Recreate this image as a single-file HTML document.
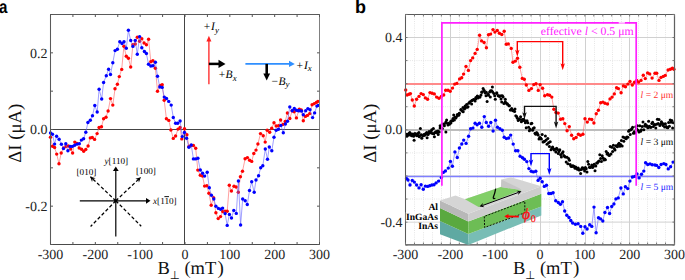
<!DOCTYPE html><html><head><meta charset="utf-8"><style>html,body{margin:0;padding:0;background:#fff;overflow:hidden}svg{display:block;text-rendering:geometricPrecision;-webkit-font-smoothing:antialiased}.s{font-family:"Liberation Serif",serif}.n{font-family:"Liberation Sans",sans-serif}</style></head><body>
<svg width="685" height="280" viewBox="0 0 685 280">
<rect width="685" height="280" fill="#fff"/>
<text class="n" transform="translate(-0.9,12.9) scale(0.84,1)" font-size="18" font-weight="bold" fill="#000">a</text>
<line x1="184.5" y1="14.5" x2="184.5" y2="244.5" stroke="#444" stroke-width="1"/>
<line x1="50.5" y1="129.5" x2="319.5" y2="129.5" stroke="#444" stroke-width="1"/>
<path d="M50.5,137.3 L52.5,146.2 L54.6,147.5 L56.7,154.1 L59,163.7 L61.2,153 L63.5,148 L65.9,146.5 L68.3,146 L70.7,149 L72.6,153 L74.8,142.1 L77,143.5 L79.2,148 L81.6,149.2 L83.7,151.3 L85.8,149.4 L88.1,146 L90.3,137.9 L92.3,137.5 L94.6,139.4 L97.1,133.6 L99.1,127.5 L101.5,126.7 L103.6,118.8 L106,117.3 L108.1,111 L110.5,98.6 L112.8,105.1 L115,88.8 L117.4,84.3 L119.3,76.6 L121.7,69.4 L123.9,46.2 L126.3,56.3 L128.4,58.3 L130.7,67 L132.9,44.8 L135.2,44 L137.3,37.3 L139.6,41.2 L141.8,38.7 L144.1,43 L146.4,44.7 L148.6,39.3 L150.8,61.7 L152.9,60.7 L155.4,68.3 L157.5,91.3 L160.2,85.4 L162.2,84.8 L164.2,100.2 L166.4,118.8 L168.8,120.4 L170.9,130 L173.3,138.4 L175.6,136 L178,129.1 L180.1,127.5 L181.8,138.9 L184.5,128.7 L186.9,134.8 L188.9,146.4 L191.1,145.5 L193.4,145.5 L195.7,148.2 L197.8,170.1 L200.3,175.3 L202.5,176.1 L204.6,186.1 L206.8,185.7 L208.9,193.2 L211.2,205.2 L213.5,197.6 L215.9,212.8 L218.2,218.6 L220.5,216.6 L222.7,211.5 L225,211.3 L227.2,211.3 L229.3,185.3 L231.4,191 L234,186.3 L236.1,187 L238.3,192.2 L240.4,176.8 L242.5,171.3 L245.1,158.8 L247.4,157.6 L249.6,160.3 L251.7,161.4 L253.8,153.5 L256,150.1 L257.9,144 L260.5,133.6 L263.2,135.8 L265.2,142.1 L267.2,130.3 L269.7,132.3 L271.7,128.3 L274,122.8 L276.2,126 L278.5,125.8 L280.6,120 L283,124.4 L285.2,121.5 L287.4,113 L289.8,118.5 L292.2,110.8 L294.2,111.7 L296.4,117.9 L299.3,109.3 L301.3,110 L303.3,120.7 L305.4,116.4 L307.4,115.4 L309.7,113.6 L312.1,104.7 L314.3,103.6 L316.4,102.4 L317.9,101.4" fill="none" stroke="#ff6060" stroke-width="0.6" opacity="1"/>
<g fill="#ff0000"><circle cx="50.5" cy="137.3" r="1.7"/><circle cx="52.5" cy="146.2" r="1.7"/><circle cx="54.6" cy="147.5" r="1.7"/><circle cx="56.7" cy="154.1" r="1.7"/><circle cx="59" cy="163.7" r="1.7"/><circle cx="61.2" cy="153" r="1.7"/><circle cx="63.5" cy="148" r="1.7"/><circle cx="65.9" cy="146.5" r="1.7"/><circle cx="68.3" cy="146" r="1.7"/><circle cx="70.7" cy="149" r="1.7"/><circle cx="72.6" cy="153" r="1.7"/><circle cx="74.8" cy="142.1" r="1.7"/><circle cx="77" cy="143.5" r="1.7"/><circle cx="79.2" cy="148" r="1.7"/><circle cx="81.6" cy="149.2" r="1.7"/><circle cx="83.7" cy="151.3" r="1.7"/><circle cx="85.8" cy="149.4" r="1.7"/><circle cx="88.1" cy="146" r="1.7"/><circle cx="90.3" cy="137.9" r="1.7"/><circle cx="92.3" cy="137.5" r="1.7"/><circle cx="94.6" cy="139.4" r="1.7"/><circle cx="97.1" cy="133.6" r="1.7"/><circle cx="99.1" cy="127.5" r="1.7"/><circle cx="101.5" cy="126.7" r="1.7"/><circle cx="103.6" cy="118.8" r="1.7"/><circle cx="106" cy="117.3" r="1.7"/><circle cx="108.1" cy="111" r="1.7"/><circle cx="110.5" cy="98.6" r="1.7"/><circle cx="112.8" cy="105.1" r="1.7"/><circle cx="115" cy="88.8" r="1.7"/><circle cx="117.4" cy="84.3" r="1.7"/><circle cx="119.3" cy="76.6" r="1.7"/><circle cx="121.7" cy="69.4" r="1.7"/><circle cx="123.9" cy="46.2" r="1.7"/><circle cx="126.3" cy="56.3" r="1.7"/><circle cx="128.4" cy="58.3" r="1.7"/><circle cx="130.7" cy="67" r="1.7"/><circle cx="132.9" cy="44.8" r="1.7"/><circle cx="135.2" cy="44" r="1.7"/><circle cx="137.3" cy="37.3" r="1.7"/><circle cx="139.6" cy="41.2" r="1.7"/><circle cx="141.8" cy="38.7" r="1.7"/><circle cx="144.1" cy="43" r="1.7"/><circle cx="146.4" cy="44.7" r="1.7"/><circle cx="148.6" cy="39.3" r="1.7"/><circle cx="150.8" cy="61.7" r="1.7"/><circle cx="152.9" cy="60.7" r="1.7"/><circle cx="155.4" cy="68.3" r="1.7"/><circle cx="157.5" cy="91.3" r="1.7"/><circle cx="160.2" cy="85.4" r="1.7"/><circle cx="162.2" cy="84.8" r="1.7"/><circle cx="164.2" cy="100.2" r="1.7"/><circle cx="166.4" cy="118.8" r="1.7"/><circle cx="168.8" cy="120.4" r="1.7"/><circle cx="170.9" cy="130" r="1.7"/><circle cx="173.3" cy="138.4" r="1.7"/><circle cx="175.6" cy="136" r="1.7"/><circle cx="178" cy="129.1" r="1.7"/><circle cx="180.1" cy="127.5" r="1.7"/><circle cx="181.8" cy="138.9" r="1.7"/><circle cx="184.5" cy="128.7" r="1.7"/><circle cx="186.9" cy="134.8" r="1.7"/><circle cx="188.9" cy="146.4" r="1.7"/><circle cx="191.1" cy="145.5" r="1.7"/><circle cx="193.4" cy="145.5" r="1.7"/><circle cx="195.7" cy="148.2" r="1.7"/><circle cx="197.8" cy="170.1" r="1.7"/><circle cx="200.3" cy="175.3" r="1.7"/><circle cx="202.5" cy="176.1" r="1.7"/><circle cx="204.6" cy="186.1" r="1.7"/><circle cx="206.8" cy="185.7" r="1.7"/><circle cx="208.9" cy="193.2" r="1.7"/><circle cx="211.2" cy="205.2" r="1.7"/><circle cx="213.5" cy="197.6" r="1.7"/><circle cx="215.9" cy="212.8" r="1.7"/><circle cx="218.2" cy="218.6" r="1.7"/><circle cx="220.5" cy="216.6" r="1.7"/><circle cx="222.7" cy="211.5" r="1.7"/><circle cx="225" cy="211.3" r="1.7"/><circle cx="227.2" cy="211.3" r="1.7"/><circle cx="229.3" cy="185.3" r="1.7"/><circle cx="231.4" cy="191" r="1.7"/><circle cx="234" cy="186.3" r="1.7"/><circle cx="236.1" cy="187" r="1.7"/><circle cx="238.3" cy="192.2" r="1.7"/><circle cx="240.4" cy="176.8" r="1.7"/><circle cx="242.5" cy="171.3" r="1.7"/><circle cx="245.1" cy="158.8" r="1.7"/><circle cx="247.4" cy="157.6" r="1.7"/><circle cx="249.6" cy="160.3" r="1.7"/><circle cx="251.7" cy="161.4" r="1.7"/><circle cx="253.8" cy="153.5" r="1.7"/><circle cx="256" cy="150.1" r="1.7"/><circle cx="257.9" cy="144" r="1.7"/><circle cx="260.5" cy="133.6" r="1.7"/><circle cx="263.2" cy="135.8" r="1.7"/><circle cx="265.2" cy="142.1" r="1.7"/><circle cx="267.2" cy="130.3" r="1.7"/><circle cx="269.7" cy="132.3" r="1.7"/><circle cx="271.7" cy="128.3" r="1.7"/><circle cx="274" cy="122.8" r="1.7"/><circle cx="276.2" cy="126" r="1.7"/><circle cx="278.5" cy="125.8" r="1.7"/><circle cx="280.6" cy="120" r="1.7"/><circle cx="283" cy="124.4" r="1.7"/><circle cx="285.2" cy="121.5" r="1.7"/><circle cx="287.4" cy="113" r="1.7"/><circle cx="289.8" cy="118.5" r="1.7"/><circle cx="292.2" cy="110.8" r="1.7"/><circle cx="294.2" cy="111.7" r="1.7"/><circle cx="296.4" cy="117.9" r="1.7"/><circle cx="299.3" cy="109.3" r="1.7"/><circle cx="301.3" cy="110" r="1.7"/><circle cx="303.3" cy="120.7" r="1.7"/><circle cx="305.4" cy="116.4" r="1.7"/><circle cx="307.4" cy="115.4" r="1.7"/><circle cx="309.7" cy="113.6" r="1.7"/><circle cx="312.1" cy="104.7" r="1.7"/><circle cx="314.3" cy="103.6" r="1.7"/><circle cx="316.4" cy="102.4" r="1.7"/><circle cx="317.9" cy="101.4" r="1.7"/></g>
<path d="M50.5,132.9 L52.5,134.3 L54.6,144.1 L56.6,136.3 L59.1,139.3 L61.4,144.2 L63.5,148.6 L65.8,143.7 L67.9,150.8 L70.1,146.4 L72.3,146.4 L74.7,145.2 L77.1,144.1 L79.3,143.7 L81.4,140.1 L83.6,138.7 L85.8,132.3 L87.9,122.5 L90.3,120.2 L92.5,115.7 L94.8,105.5 L97.2,112 L99.1,89.2 L101.7,99 L103.6,82.5 L106.3,75.7 L108.6,69.2 L110.5,74.5 L112.8,62.7 L115.1,50.6 L117.4,49.2 L119.8,41.7 L122,43.5 L124,41.7 L126.3,48.3 L128.4,30.3 L130.7,40.5 L132.9,46.4 L135.2,40.4 L137.3,54.3 L139.6,36.6 L141.8,47.7 L144.4,51.5 L146.4,53.5 L148.5,64.2 L150.8,66 L153,65.7 L155.4,62.2 L157.5,76.2 L159.8,87 L162.2,87.4 L164.3,97.1 L166.5,98.5 L168.7,101.4 L171.2,105.1 L173.3,117.5 L175.6,123.3 L177.7,123.3 L180.1,121 L182.3,136.6 L184.45,132.5 L186.6,138.3 L188.9,147.3 L191.25,145 L193.4,158.9 L195.5,158.9 L197.9,158.2 L200.3,170 L202.6,173.3 L204.6,176.1 L207.2,172.2 L209.3,187.8 L211.4,195.3 L213.8,199 L215.9,206.3 L218.4,208.4 L220.6,209.3 L222.6,208.1 L225.1,213.6 L227.2,225.4 L229.4,214.4 L231.5,218 L233.8,210.4 L236.3,213.4 L238.4,181 L240.6,225 L242.7,199 L245.2,200.8 L247.3,204.5 L249.5,190.5 L251.7,181.8 L254.2,192.2 L256,180 L258.6,175.8 L260.7,167.8 L262.8,165.7 L265.3,149 L267.5,159.3 L269.3,147 L271.8,150.7 L274,137.2 L276.2,130.3 L278.5,129.3 L280.9,125.4 L283.3,132.8 L285.4,124 L287.5,121.2 L289.8,106.9 L292.2,110.7 L294.3,108.5 L296.4,110.3 L298.3,110.7 L300,110.7 L301.7,111.1 L303.3,114.7 L305.7,110.7 L307.9,108.6 L310,109.7 L312.6,117.6 L314.6,112.9 L316.9,106.1 L318.3,105.4" fill="none" stroke="#6060ff" stroke-width="0.6" opacity="1"/>
<g fill="#0000ff"><circle cx="50.5" cy="132.9" r="1.7"/><circle cx="52.5" cy="134.3" r="1.7"/><circle cx="54.6" cy="144.1" r="1.7"/><circle cx="56.6" cy="136.3" r="1.7"/><circle cx="59.1" cy="139.3" r="1.7"/><circle cx="61.4" cy="144.2" r="1.7"/><circle cx="63.5" cy="148.6" r="1.7"/><circle cx="65.8" cy="143.7" r="1.7"/><circle cx="67.9" cy="150.8" r="1.7"/><circle cx="70.1" cy="146.4" r="1.7"/><circle cx="72.3" cy="146.4" r="1.7"/><circle cx="74.7" cy="145.2" r="1.7"/><circle cx="77.1" cy="144.1" r="1.7"/><circle cx="79.3" cy="143.7" r="1.7"/><circle cx="81.4" cy="140.1" r="1.7"/><circle cx="83.6" cy="138.7" r="1.7"/><circle cx="85.8" cy="132.3" r="1.7"/><circle cx="87.9" cy="122.5" r="1.7"/><circle cx="90.3" cy="120.2" r="1.7"/><circle cx="92.5" cy="115.7" r="1.7"/><circle cx="94.8" cy="105.5" r="1.7"/><circle cx="97.2" cy="112" r="1.7"/><circle cx="99.1" cy="89.2" r="1.7"/><circle cx="101.7" cy="99" r="1.7"/><circle cx="103.6" cy="82.5" r="1.7"/><circle cx="106.3" cy="75.7" r="1.7"/><circle cx="108.6" cy="69.2" r="1.7"/><circle cx="110.5" cy="74.5" r="1.7"/><circle cx="112.8" cy="62.7" r="1.7"/><circle cx="115.1" cy="50.6" r="1.7"/><circle cx="117.4" cy="49.2" r="1.7"/><circle cx="119.8" cy="41.7" r="1.7"/><circle cx="122" cy="43.5" r="1.7"/><circle cx="124" cy="41.7" r="1.7"/><circle cx="126.3" cy="48.3" r="1.7"/><circle cx="128.4" cy="30.3" r="1.7"/><circle cx="130.7" cy="40.5" r="1.7"/><circle cx="132.9" cy="46.4" r="1.7"/><circle cx="135.2" cy="40.4" r="1.7"/><circle cx="137.3" cy="54.3" r="1.7"/><circle cx="139.6" cy="36.6" r="1.7"/><circle cx="141.8" cy="47.7" r="1.7"/><circle cx="144.4" cy="51.5" r="1.7"/><circle cx="146.4" cy="53.5" r="1.7"/><circle cx="148.5" cy="64.2" r="1.7"/><circle cx="150.8" cy="66" r="1.7"/><circle cx="153" cy="65.7" r="1.7"/><circle cx="155.4" cy="62.2" r="1.7"/><circle cx="157.5" cy="76.2" r="1.7"/><circle cx="159.8" cy="87" r="1.7"/><circle cx="162.2" cy="87.4" r="1.7"/><circle cx="164.3" cy="97.1" r="1.7"/><circle cx="166.5" cy="98.5" r="1.7"/><circle cx="168.7" cy="101.4" r="1.7"/><circle cx="171.2" cy="105.1" r="1.7"/><circle cx="173.3" cy="117.5" r="1.7"/><circle cx="175.6" cy="123.3" r="1.7"/><circle cx="177.7" cy="123.3" r="1.7"/><circle cx="180.1" cy="121" r="1.7"/><circle cx="182.3" cy="136.6" r="1.7"/><circle cx="184.45" cy="132.5" r="1.7"/><circle cx="186.6" cy="138.3" r="1.7"/><circle cx="188.9" cy="147.3" r="1.7"/><circle cx="191.25" cy="145" r="1.7"/><circle cx="193.4" cy="158.9" r="1.7"/><circle cx="195.5" cy="158.9" r="1.7"/><circle cx="197.9" cy="158.2" r="1.7"/><circle cx="200.3" cy="170" r="1.7"/><circle cx="202.6" cy="173.3" r="1.7"/><circle cx="204.6" cy="176.1" r="1.7"/><circle cx="207.2" cy="172.2" r="1.7"/><circle cx="209.3" cy="187.8" r="1.7"/><circle cx="211.4" cy="195.3" r="1.7"/><circle cx="213.8" cy="199" r="1.7"/><circle cx="215.9" cy="206.3" r="1.7"/><circle cx="218.4" cy="208.4" r="1.7"/><circle cx="220.6" cy="209.3" r="1.7"/><circle cx="222.6" cy="208.1" r="1.7"/><circle cx="225.1" cy="213.6" r="1.7"/><circle cx="227.2" cy="225.4" r="1.7"/><circle cx="229.4" cy="214.4" r="1.7"/><circle cx="231.5" cy="218" r="1.7"/><circle cx="233.8" cy="210.4" r="1.7"/><circle cx="236.3" cy="213.4" r="1.7"/><circle cx="238.4" cy="181" r="1.7"/><circle cx="240.6" cy="225" r="1.7"/><circle cx="242.7" cy="199" r="1.7"/><circle cx="245.2" cy="200.8" r="1.7"/><circle cx="247.3" cy="204.5" r="1.7"/><circle cx="249.5" cy="190.5" r="1.7"/><circle cx="251.7" cy="181.8" r="1.7"/><circle cx="254.2" cy="192.2" r="1.7"/><circle cx="256" cy="180" r="1.7"/><circle cx="258.6" cy="175.8" r="1.7"/><circle cx="260.7" cy="167.8" r="1.7"/><circle cx="262.8" cy="165.7" r="1.7"/><circle cx="265.3" cy="149" r="1.7"/><circle cx="267.5" cy="159.3" r="1.7"/><circle cx="269.3" cy="147" r="1.7"/><circle cx="271.8" cy="150.7" r="1.7"/><circle cx="274" cy="137.2" r="1.7"/><circle cx="276.2" cy="130.3" r="1.7"/><circle cx="278.5" cy="129.3" r="1.7"/><circle cx="280.9" cy="125.4" r="1.7"/><circle cx="283.3" cy="132.8" r="1.7"/><circle cx="285.4" cy="124" r="1.7"/><circle cx="287.5" cy="121.2" r="1.7"/><circle cx="289.8" cy="106.9" r="1.7"/><circle cx="292.2" cy="110.7" r="1.7"/><circle cx="294.3" cy="108.5" r="1.7"/><circle cx="296.4" cy="110.3" r="1.7"/><circle cx="298.3" cy="110.7" r="1.7"/><circle cx="300" cy="110.7" r="1.7"/><circle cx="301.7" cy="111.1" r="1.7"/><circle cx="303.3" cy="114.7" r="1.7"/><circle cx="305.7" cy="110.7" r="1.7"/><circle cx="307.9" cy="108.6" r="1.7"/><circle cx="310" cy="109.7" r="1.7"/><circle cx="312.6" cy="117.6" r="1.7"/><circle cx="314.6" cy="112.9" r="1.7"/><circle cx="316.9" cy="106.1" r="1.7"/><circle cx="318.3" cy="105.4" r="1.7"/></g>
<path d="M50.5,244.5V14.5H319.5" fill="none" stroke="#5a5a5a" stroke-width="1.05"/>
<path d="M50.5,244.5H319.5" fill="none" stroke="#4a4a4a" stroke-width="1.05"/>
<path d="M319.5,14.5V244.5" fill="none" stroke="#808080" stroke-width="1"/>
<path d="M50.5,14.5v2.5M50.5,244.5v-2.5M72.92,14.5v2.5M72.92,244.5v-2.5M95.33,14.5v2.5M95.33,244.5v-2.5M117.75,14.5v2.5M117.75,244.5v-2.5M140.17,14.5v2.5M140.17,244.5v-2.5M162.58,14.5v2.5M162.58,244.5v-2.5M185,14.5v2.5M185,244.5v-2.5M207.42,14.5v2.5M207.42,244.5v-2.5M229.83,14.5v2.5M229.83,244.5v-2.5M252.25,14.5v2.5M252.25,244.5v-2.5M274.67,14.5v2.5M274.67,244.5v-2.5M297.08,14.5v2.5M297.08,244.5v-2.5M319.5,14.5v2.5M319.5,244.5v-2.5M50.5,244.5h2.5M319.5,244.5h-2.5M50.5,206.17h2.5M319.5,206.17h-2.5M50.5,167.83h2.5M319.5,167.83h-2.5M50.5,129.5h2.5M319.5,129.5h-2.5M50.5,91.17h2.5M319.5,91.17h-2.5M50.5,52.83h2.5M319.5,52.83h-2.5M50.5,14.5h2.5M319.5,14.5h-2.5" stroke="#555" stroke-width="1" fill="none"/>
<text class="s" x="50.5" y="258.7" font-size="14" text-anchor="middle" fill="#222">-300</text>
<text class="s" x="95.33" y="258.7" font-size="14" text-anchor="middle" fill="#222">-200</text>
<text class="s" x="140.17" y="258.7" font-size="14" text-anchor="middle" fill="#222">-100</text>
<text class="s" x="185" y="258.7" font-size="14" text-anchor="middle" fill="#222">0</text>
<text class="s" x="229.83" y="258.7" font-size="14" text-anchor="middle" fill="#222">100</text>
<text class="s" x="274.67" y="258.7" font-size="14" text-anchor="middle" fill="#222">200</text>
<text class="s" x="319.5" y="258.7" font-size="14" text-anchor="middle" fill="#222">300</text>
<text class="s" x="47.5" y="57.63" font-size="14" text-anchor="end" fill="#222">0.2</text>
<text class="s" x="47.5" y="134.3" font-size="14" text-anchor="end" fill="#222">0.0</text>
<text class="s" x="47.5" y="210.97" font-size="14" text-anchor="end" fill="#222">-0.2</text>
<g class="s" fill="#111"><text x="157.6" y="273.6" font-size="18.5">B</text><text x="169.79999999999998" y="278.9" font-size="11.5">⊥</text><text x="184.4" y="274.2" font-size="18.5">(mT</text><text x="217.6" y="274.4" font-size="19">)</text></g>
<text class="s" transform="translate(20.8,162.8) rotate(-90)" x="0" y="0" font-size="18.5" textLength="59" lengthAdjust="spacingAndGlyphs" fill="#111">ΔI (μA)</text>
<g>
<line x1="208.9" y1="84.3" x2="208.9" y2="40" stroke="#ff2020" stroke-width="1.3"/>
<path d="M206.4,41.5 L208.9,35.7 L211.4,41.5 Z" fill="#ff2020"/>
<line x1="208.9" y1="63.9" x2="219" y2="63.9" stroke="#000" stroke-width="2.5"/>
<path d="M218.5,59.8 L225.5,63.9 L218.5,68 Z" fill="#000"/>
<line x1="245.4" y1="63.9" x2="290" y2="63.9" stroke="#2f8fff" stroke-width="1.6"/>
<path d="M289,60.8 L294.8,63.9 L289,67 Z" fill="#2f8fff"/>
<line x1="266.7" y1="63.9" x2="266.7" y2="74.5" stroke="#000" stroke-width="2.6"/>
<path d="M263.3,73.5 L266.7,80.5 L270.1,73.5 Z" fill="#000"/>
</g>
<g class="s" fill="#000" font-size="11.5">
<text x="203.8" y="30">+<tspan font-style="italic" dx="0.8">I</tspan><tspan font-style="italic" font-size="9" dy="2.6">y</tspan></text>
<text x="218.8" y="78.4">+<tspan font-style="italic" dx="0.3">B</tspan><tspan font-style="italic" font-size="9" dy="2.3">x</tspan></text>
<text x="296.6" y="68.9">+<tspan font-style="italic" dx="0.8">I</tspan><tspan font-style="italic" font-size="9" dy="2.3">x</tspan></text>
<text x="271.6" y="84.5">−<tspan font-style="italic" dx="0.3">B</tspan><tspan font-style="italic" font-size="9" dy="2.6">y</tspan></text>
</g>
<g stroke="#000" fill="none">
<line x1="79.8" y1="200.8" x2="147" y2="200.8" stroke-width="1.2"/>
<line x1="115.8" y1="236.5" x2="115.8" y2="170" stroke-width="1.2"/>
<path d="M115.8,200.8 L90.5,176.8 M115.8,200.8 L140.5,177.5 M115.8,200.8 L141.2,226.2 M115.8,200.8 L90.6,226.5" stroke-width="1.25" stroke-dasharray="3.4,2.2"/>
</g>
<g fill="#000">
<circle cx="115.8" cy="200.8" r="1.6"/>
<path d="M146,197.9 L150.5,200.8 L146,203.7 Z"/>
<path d="M112.9,171 L115.8,166.4 L118.7,171 Z"/>
<path d="M90.2,176.6 L95.62,178.15 L92.74,179 L92.05,181.92 Z"/>
<path d="M140.8,177.3 L138.94,182.62 L138.25,179.7 L135.38,178.83 Z"/>
</g>
<g class="s" font-size="9.2" fill="#000">
<text x="104.5" y="163.8"><tspan font-style="italic">y</tspan>[110]</text>
<text x="76.5" y="175.2">[010]</text>
<text x="136" y="174.3">[100]</text>
<text x="153" y="204.2"><tspan font-style="italic">x</tspan>[1<tspan text-decoration="overline">1</tspan>0]</text>
</g>
<text class="n" x="355" y="13" font-size="18" font-weight="bold" fill="#000">b</text>
<path d="M414.5,14.5V244.5M423.5,14.5V244.5M432.5,14.5V244.5M441.5,14.5V244.5M459.5,14.5V244.5M468.5,14.5V244.5M477.5,14.5V244.5M486.5,14.5V244.5M504.5,14.5V244.5M513.5,14.5V244.5M522.5,14.5V244.5M531.5,14.5V244.5M549.5,14.5V244.5M558.5,14.5V244.5M567.5,14.5V244.5M576.5,14.5V244.5M594.5,14.5V244.5M603.5,14.5V244.5M612.5,14.5V244.5M621.5,14.5V244.5M638.5,14.5V244.5M647.5,14.5V244.5M656.5,14.5V244.5M665.5,14.5V244.5" stroke="#e0e0e0" stroke-width="0.9" stroke-dasharray="0.9,1.3" fill="none"/>
<path d="M405.5,199.03H674.5M405.5,152.88H674.5M405.5,106.73H674.5M405.5,60.58H674.5" stroke="#e0e0e0" stroke-width="0.9" stroke-dasharray="0.9,1.3" fill="none"/>
<path d="M450.5,14.5V244.5M495.5,14.5V244.5M540.5,14.5V244.5M585.5,14.5V244.5M629.5,14.5V244.5M405.5,37.5H674.5M405.5,83.65H674.5M405.5,175.95H674.5M405.5,222.1H674.5" stroke="#d0d0d0" stroke-width="1" fill="none"/>
<line x1="405.5" y1="130" x2="674.5" y2="130" stroke="#bdbdbd" stroke-width="1.8"/>
<line x1="405.5" y1="84" x2="674.5" y2="84" stroke="#ff8a8a" stroke-width="1.8"/>
<line x1="405.5" y1="176.4" x2="674.5" y2="176.4" stroke="#7f7fff" stroke-width="1.5"/>
<path d="M405.7,90 L407.1,95 L409,94.3 L410.4,93.6 L412.3,100 L414.3,106 L416.6,99.3 L419,96.4 L421.1,93.6 L423.3,94.6 L425.4,97.9 L427.6,99.3 L430,92.6 L432.1,93.3 L434.3,93.9 L436.6,97.1 L439,98.3 L441.4,96.4 L443.7,95 L445.7,90.3 L448,90.3 L450.2,91.2 L452.5,88.1 L454.75,84.1 L456.8,83.4 L459.6,78.9 L461.7,77.7 L463.6,74.1 L466,66.4 L468.4,70.4 L470.6,60.6 L472.7,57.9 L475.1,53.4 L477.2,49.4 L479.6,35.3 L481.6,40.9 L484.1,42.5 L486.4,47.7 L488.5,34.8 L490.6,34.1 L493,29.6 L494.9,32.1 L497.3,30.5 L499.4,33.3 L501.8,34.5 L504.2,31.3 L506.3,44.2 L508.3,43.9 L511.25,48.4 L513,62.3 L515.4,61.1 L517.5,58.2 L519.8,67.3 L522.3,78.4 L524.3,79.3 L526.3,85 L528.9,90.4 L531.4,88.6 L533.8,84.6 L536,83.7 L538.3,90.4 L540.1,84.6 L542.6,88.3 L544.7,95.8 L547.5,94.7 L549.6,95.3 L551.8,97.1 L553.9,109.3 L556,112.5 L558.2,113.1 L560.6,119.2 L562.8,118.7 L564.8,123.6 L567.1,130.7 L569.3,126.6 L571.6,135.2 L573.75,138.75 L576.1,137.5 L578.4,134.3 L580.5,135.2 L582.9,134.3 L585,118.75 L587.3,122.1 L589.5,119.1 L591.8,119.5 L593.9,123 L596.25,113.75 L598.4,110.2 L600.7,102.7 L602.9,102.1 L605,103.3 L607.5,104 L610,98.9 L612.1,97.1 L614.3,93.9 L616.6,87.7 L618.4,88.6 L621.1,92.7 L623.4,85.9 L625.5,86.8 L627.9,84.1 L630,81.4 L632.3,85 L634.5,82.3 L636.7,80.4 L638.6,82.1 L641,80.4 L643.3,75.3 L645.3,78.6 L647.6,72.9 L649.7,73.9 L652.1,78.1 L655,73.3 L656.7,73.3 L659,80.4 L661,77.4 L663.3,76.4 L665.3,75.4 L668.1,70 L670.4,69.3 L672.4,68.3 L673.9,69.3" fill="none" stroke="#ff6060" stroke-width="0.6" opacity="1"/>
<g fill="#ff0000"><circle cx="405.7" cy="90" r="1.7"/><circle cx="407.1" cy="95" r="1.7"/><circle cx="409" cy="94.3" r="1.7"/><circle cx="410.4" cy="93.6" r="1.7"/><circle cx="412.3" cy="100" r="1.7"/><circle cx="414.3" cy="106" r="1.7"/><circle cx="416.6" cy="99.3" r="1.7"/><circle cx="419" cy="96.4" r="1.7"/><circle cx="421.1" cy="93.6" r="1.7"/><circle cx="423.3" cy="94.6" r="1.7"/><circle cx="425.4" cy="97.9" r="1.7"/><circle cx="427.6" cy="99.3" r="1.7"/><circle cx="430" cy="92.6" r="1.7"/><circle cx="432.1" cy="93.3" r="1.7"/><circle cx="434.3" cy="93.9" r="1.7"/><circle cx="436.6" cy="97.1" r="1.7"/><circle cx="439" cy="98.3" r="1.7"/><circle cx="441.4" cy="96.4" r="1.7"/><circle cx="443.7" cy="95" r="1.7"/><circle cx="445.7" cy="90.3" r="1.7"/><circle cx="448" cy="90.3" r="1.7"/><circle cx="450.2" cy="91.2" r="1.7"/><circle cx="452.5" cy="88.1" r="1.7"/><circle cx="454.75" cy="84.1" r="1.7"/><circle cx="456.8" cy="83.4" r="1.7"/><circle cx="459.6" cy="78.9" r="1.7"/><circle cx="461.7" cy="77.7" r="1.7"/><circle cx="463.6" cy="74.1" r="1.7"/><circle cx="466" cy="66.4" r="1.7"/><circle cx="468.4" cy="70.4" r="1.7"/><circle cx="470.6" cy="60.6" r="1.7"/><circle cx="472.7" cy="57.9" r="1.7"/><circle cx="475.1" cy="53.4" r="1.7"/><circle cx="477.2" cy="49.4" r="1.7"/><circle cx="479.6" cy="35.3" r="1.7"/><circle cx="481.6" cy="40.9" r="1.7"/><circle cx="484.1" cy="42.5" r="1.7"/><circle cx="486.4" cy="47.7" r="1.7"/><circle cx="488.5" cy="34.8" r="1.7"/><circle cx="490.6" cy="34.1" r="1.7"/><circle cx="493" cy="29.6" r="1.7"/><circle cx="494.9" cy="32.1" r="1.7"/><circle cx="497.3" cy="30.5" r="1.7"/><circle cx="499.4" cy="33.3" r="1.7"/><circle cx="501.8" cy="34.5" r="1.7"/><circle cx="504.2" cy="31.3" r="1.7"/><circle cx="506.3" cy="44.2" r="1.7"/><circle cx="508.3" cy="43.9" r="1.7"/><circle cx="511.25" cy="48.4" r="1.7"/><circle cx="513" cy="62.3" r="1.7"/><circle cx="515.4" cy="61.1" r="1.7"/><circle cx="517.5" cy="58.2" r="1.7"/><circle cx="519.8" cy="67.3" r="1.7"/><circle cx="522.3" cy="78.4" r="1.7"/><circle cx="524.3" cy="79.3" r="1.7"/><circle cx="526.3" cy="85" r="1.7"/><circle cx="528.9" cy="90.4" r="1.7"/><circle cx="531.4" cy="88.6" r="1.7"/><circle cx="533.8" cy="84.6" r="1.7"/><circle cx="536" cy="83.7" r="1.7"/><circle cx="538.3" cy="90.4" r="1.7"/><circle cx="540.1" cy="84.6" r="1.7"/><circle cx="542.6" cy="88.3" r="1.7"/><circle cx="544.7" cy="95.8" r="1.7"/><circle cx="547.5" cy="94.7" r="1.7"/><circle cx="549.6" cy="95.3" r="1.7"/><circle cx="551.8" cy="97.1" r="1.7"/><circle cx="553.9" cy="109.3" r="1.7"/><circle cx="556" cy="112.5" r="1.7"/><circle cx="558.2" cy="113.1" r="1.7"/><circle cx="560.6" cy="119.2" r="1.7"/><circle cx="562.8" cy="118.7" r="1.7"/><circle cx="564.8" cy="123.6" r="1.7"/><circle cx="567.1" cy="130.7" r="1.7"/><circle cx="569.3" cy="126.6" r="1.7"/><circle cx="571.6" cy="135.2" r="1.7"/><circle cx="573.75" cy="138.75" r="1.7"/><circle cx="576.1" cy="137.5" r="1.7"/><circle cx="578.4" cy="134.3" r="1.7"/><circle cx="580.5" cy="135.2" r="1.7"/><circle cx="582.9" cy="134.3" r="1.7"/><circle cx="585" cy="118.75" r="1.7"/><circle cx="587.3" cy="122.1" r="1.7"/><circle cx="589.5" cy="119.1" r="1.7"/><circle cx="591.8" cy="119.5" r="1.7"/><circle cx="593.9" cy="123" r="1.7"/><circle cx="596.25" cy="113.75" r="1.7"/><circle cx="598.4" cy="110.2" r="1.7"/><circle cx="600.7" cy="102.7" r="1.7"/><circle cx="602.9" cy="102.1" r="1.7"/><circle cx="605" cy="103.3" r="1.7"/><circle cx="607.5" cy="104" r="1.7"/><circle cx="610" cy="98.9" r="1.7"/><circle cx="612.1" cy="97.1" r="1.7"/><circle cx="614.3" cy="93.9" r="1.7"/><circle cx="616.6" cy="87.7" r="1.7"/><circle cx="618.4" cy="88.6" r="1.7"/><circle cx="621.1" cy="92.7" r="1.7"/><circle cx="623.4" cy="85.9" r="1.7"/><circle cx="625.5" cy="86.8" r="1.7"/><circle cx="627.9" cy="84.1" r="1.7"/><circle cx="630" cy="81.4" r="1.7"/><circle cx="632.3" cy="85" r="1.7"/><circle cx="634.5" cy="82.3" r="1.7"/><circle cx="636.7" cy="80.4" r="1.7"/><circle cx="638.6" cy="82.1" r="1.7"/><circle cx="641" cy="80.4" r="1.7"/><circle cx="643.3" cy="75.3" r="1.7"/><circle cx="645.3" cy="78.6" r="1.7"/><circle cx="647.6" cy="72.9" r="1.7"/><circle cx="649.7" cy="73.9" r="1.7"/><circle cx="652.1" cy="78.1" r="1.7"/><circle cx="655" cy="73.3" r="1.7"/><circle cx="656.7" cy="73.3" r="1.7"/><circle cx="659" cy="80.4" r="1.7"/><circle cx="661" cy="77.4" r="1.7"/><circle cx="663.3" cy="76.4" r="1.7"/><circle cx="665.3" cy="75.4" r="1.7"/><circle cx="668.1" cy="70" r="1.7"/><circle cx="670.4" cy="69.3" r="1.7"/><circle cx="672.4" cy="68.3" r="1.7"/><circle cx="673.9" cy="69.3" r="1.7"/></g>
<g fill="#000"><circle cx="406.9" cy="136.3" r="1.5"/><circle cx="407.7" cy="134.4" r="1.5"/><circle cx="408.8" cy="133.4" r="1.5"/><circle cx="409.8" cy="132.5" r="1.5"/><circle cx="410.7" cy="134.9" r="1.5"/><circle cx="411.7" cy="135.8" r="1.5"/><circle cx="412.7" cy="134.4" r="1.5"/><circle cx="413.6" cy="136.3" r="1.5"/><circle cx="414.1" cy="140.2" r="1.5"/><circle cx="415.1" cy="134.9" r="1.5"/><circle cx="416" cy="133.9" r="1.5"/><circle cx="417" cy="135.8" r="1.5"/><circle cx="418" cy="133.4" r="1.5"/><circle cx="418.9" cy="132.5" r="1.5"/><circle cx="419.4" cy="136.8" r="1.5"/><circle cx="420.4" cy="128.6" r="1.5"/><circle cx="420.9" cy="134.9" r="1.5"/><circle cx="421.8" cy="138.2" r="1.5"/><circle cx="422.8" cy="135.8" r="1.5"/><circle cx="423.8" cy="134.4" r="1.5"/><circle cx="424.7" cy="135.3" r="1.5"/><circle cx="425.7" cy="133.4" r="1.5"/><circle cx="426.7" cy="132.5" r="1.5"/><circle cx="427.1" cy="137.8" r="1.5"/><circle cx="428.1" cy="134.4" r="1.5"/><circle cx="429.1" cy="131.5" r="1.5"/><circle cx="430" cy="132.5" r="1.5"/><circle cx="431" cy="131.5" r="1.5"/><circle cx="432.4" cy="133.4" r="1.5"/><circle cx="433.4" cy="128.6" r="1.5"/><circle cx="434.4" cy="136.8" r="1.5"/><circle cx="434.8" cy="132.5" r="1.5"/><circle cx="436.3" cy="131.5" r="1.5"/><circle cx="437.3" cy="132.5" r="1.5"/><circle cx="438.2" cy="134.4" r="1.5"/><circle cx="439.2" cy="132" r="1.5"/><circle cx="440.1" cy="128.1" r="1.5"/><circle cx="440.9" cy="127.1" r="1.5"/><circle cx="442.3" cy="128.6" r="1.5"/><circle cx="444.4" cy="125.7" r="1.5"/><circle cx="445.9" cy="122.1" r="1.5"/><circle cx="446.6" cy="120" r="1.5"/><circle cx="445.9" cy="132.1" r="1.5"/><circle cx="448" cy="125" r="1.5"/><circle cx="449.4" cy="124.3" r="1.5"/><circle cx="450.9" cy="122.9" r="1.5"/><circle cx="451.6" cy="120.7" r="1.5"/><circle cx="453" cy="118.6" r="1.5"/><circle cx="453.7" cy="115" r="1.5"/><circle cx="454.4" cy="120" r="1.5"/><circle cx="455.9" cy="117.9" r="1.5"/><circle cx="457.3" cy="114.6" r="1.5"/><circle cx="458.7" cy="115.3" r="1.5"/><circle cx="459.4" cy="113.2" r="1.5"/><circle cx="460.9" cy="109.6" r="1.5"/><circle cx="462.3" cy="111.1" r="1.5"/><circle cx="463" cy="107.5" r="1.5"/><circle cx="464.4" cy="108.9" r="1.5"/><circle cx="465.1" cy="106.1" r="1.5"/><circle cx="466.6" cy="104.6" r="1.5"/><circle cx="468" cy="106.8" r="1.5"/><circle cx="468.7" cy="103.2" r="1.5"/><circle cx="470.1" cy="101.8" r="1.5"/><circle cx="471.6" cy="103.9" r="1.5"/><circle cx="472.3" cy="100.3" r="1.5"/><circle cx="473.7" cy="99.6" r="1.5"/><circle cx="475.1" cy="101.1" r="1.5"/><circle cx="475.9" cy="97.5" r="1.5"/><circle cx="477.3" cy="96.1" r="1.5"/><circle cx="478.1" cy="96.8" r="1.5"/><circle cx="479.6" cy="97.1" r="1.5"/><circle cx="481" cy="95" r="1.5"/><circle cx="481.7" cy="92.1" r="1.5"/><circle cx="483.1" cy="88.6" r="1.5"/><circle cx="483.9" cy="90.7" r="1.5"/><circle cx="485.3" cy="92.9" r="1.5"/><circle cx="486" cy="95.7" r="1.5"/><circle cx="487.1" cy="101.4" r="1.5"/><circle cx="488.1" cy="94.3" r="1.5"/><circle cx="489.6" cy="92.1" r="1.5"/><circle cx="490.3" cy="97.1" r="1.5"/><circle cx="491.7" cy="90.7" r="1.5"/><circle cx="492.4" cy="87.1" r="1.5"/><circle cx="493.9" cy="93.6" r="1.5"/><circle cx="495.3" cy="99.3" r="1.5"/><circle cx="496.7" cy="93.6" r="1.5"/><circle cx="498.1" cy="95.7" r="1.5"/><circle cx="499.6" cy="96.4" r="1.5"/><circle cx="501" cy="95.7" r="1.5"/><circle cx="502.4" cy="95.7" r="1.5"/><circle cx="501.7" cy="102.1" r="1.5"/><circle cx="503.9" cy="103.6" r="1.5"/><circle cx="505.3" cy="99.3" r="1.5"/><circle cx="506" cy="102.9" r="1.5"/><circle cx="507.4" cy="104.3" r="1.5"/><circle cx="508.9" cy="105.7" r="1.5"/><circle cx="510.3" cy="110" r="1.5"/><circle cx="511.7" cy="108.6" r="1.5"/><circle cx="513.1" cy="110.7" r="1.5"/><circle cx="514.6" cy="111.4" r="1.5"/><circle cx="406.5" cy="134.29" r="1.5"/><circle cx="408.6" cy="135.1" r="1.5"/><circle cx="410.7" cy="133.78" r="1.5"/><circle cx="412.8" cy="134.06" r="1.5"/><circle cx="414.9" cy="133.49" r="1.5"/><circle cx="417" cy="134.26" r="1.5"/><circle cx="419.1" cy="135.96" r="1.5"/><circle cx="421.2" cy="134.68" r="1.5"/><circle cx="423.3" cy="135.66" r="1.5"/><circle cx="425.4" cy="134.28" r="1.5"/><circle cx="427.5" cy="133.88" r="1.5"/><circle cx="429.6" cy="132.92" r="1.5"/><circle cx="431.7" cy="129.83" r="1.5"/><circle cx="433.8" cy="133.87" r="1.5"/><circle cx="435.9" cy="132.59" r="1.5"/><circle cx="438" cy="130.9" r="1.5"/><circle cx="440.1" cy="125.71" r="1.5"/><circle cx="442.2" cy="123.95" r="1.5"/><circle cx="444.3" cy="123.64" r="1.5"/><circle cx="446.4" cy="123.05" r="1.5"/><circle cx="448.5" cy="123.24" r="1.5"/><circle cx="450.6" cy="121.45" r="1.5"/><circle cx="452.7" cy="120.67" r="1.5"/><circle cx="454.8" cy="117.13" r="1.5"/><circle cx="456.9" cy="116.21" r="1.5"/><circle cx="459" cy="113.83" r="1.5"/><circle cx="461.1" cy="109.91" r="1.5"/><circle cx="463.2" cy="111.74" r="1.5"/><circle cx="465.3" cy="107.93" r="1.5"/><circle cx="467.4" cy="107.15" r="1.5"/><circle cx="469.5" cy="102.44" r="1.5"/><circle cx="471.6" cy="100.7" r="1.5"/><circle cx="473.7" cy="99.86" r="1.5"/><circle cx="475.8" cy="98.66" r="1.5"/><circle cx="477.9" cy="98.09" r="1.5"/><circle cx="480" cy="96.9" r="1.5"/><circle cx="482.1" cy="92.28" r="1.5"/><circle cx="484.2" cy="90.57" r="1.5"/><circle cx="486.3" cy="92.22" r="1.5"/><circle cx="488.4" cy="95.35" r="1.5"/><circle cx="490.5" cy="90.71" r="1.5"/><circle cx="492.6" cy="91.89" r="1.5"/><circle cx="494.7" cy="95.68" r="1.5"/><circle cx="496.8" cy="92.82" r="1.5"/><circle cx="498.9" cy="95.68" r="1.5"/><circle cx="501" cy="99.09" r="1.5"/><circle cx="503.1" cy="96.93" r="1.5"/><circle cx="505.2" cy="101.79" r="1.5"/><circle cx="507.3" cy="103.78" r="1.5"/><circle cx="509.4" cy="105.79" r="1.5"/><circle cx="511.5" cy="109.92" r="1.5"/><circle cx="513.6" cy="110.6" r="1.5"/><circle cx="515" cy="108.96" r="1.5"/><circle cx="515.8" cy="115.64" r="1.5"/><circle cx="516.6" cy="116.43" r="1.5"/><circle cx="517.4" cy="118.28" r="1.5"/><circle cx="518.2" cy="120.56" r="1.5"/><circle cx="519" cy="119.04" r="1.5"/><circle cx="519.8" cy="119.52" r="1.5"/><circle cx="520.6" cy="116.77" r="1.5"/><circle cx="521.4" cy="121.87" r="1.5"/><circle cx="522.2" cy="119.44" r="1.5"/><circle cx="523" cy="120.49" r="1.5"/><circle cx="523.8" cy="119.31" r="1.5"/><circle cx="524.6" cy="120.79" r="1.5"/><circle cx="525.4" cy="122.64" r="1.5"/><circle cx="526.2" cy="127.85" r="1.5"/><circle cx="527" cy="120.71" r="1.5"/><circle cx="527.8" cy="122.73" r="1.5"/><circle cx="528.6" cy="127.34" r="1.5"/><circle cx="529.4" cy="130.76" r="1.5"/><circle cx="530.2" cy="129.21" r="1.5"/><circle cx="531" cy="123.79" r="1.5"/><circle cx="531.8" cy="123.37" r="1.5"/><circle cx="532.6" cy="130.27" r="1.5"/><circle cx="533.4" cy="128.18" r="1.5"/><circle cx="534.2" cy="127.81" r="1.5"/><circle cx="535" cy="133.37" r="1.5"/><circle cx="535.8" cy="134.18" r="1.5"/><circle cx="536.6" cy="132.42" r="1.5"/><circle cx="537.4" cy="133.45" r="1.5"/><circle cx="538.2" cy="135.01" r="1.5"/><circle cx="539" cy="138.91" r="1.5"/><circle cx="539.8" cy="137.51" r="1.5"/><circle cx="540.6" cy="138.1" r="1.5"/><circle cx="541.4" cy="139" r="1.5"/><circle cx="542.2" cy="134.56" r="1.5"/><circle cx="543" cy="141.91" r="1.5"/><circle cx="543.8" cy="141.64" r="1.5"/><circle cx="544.6" cy="141.27" r="1.5"/><circle cx="545.4" cy="136.06" r="1.5"/><circle cx="546.2" cy="140.08" r="1.5"/><circle cx="547" cy="144.27" r="1.5"/><circle cx="547.8" cy="138.4" r="1.5"/><circle cx="548.6" cy="142.81" r="1.5"/><circle cx="549.4" cy="146.41" r="1.5"/><circle cx="550.2" cy="141.75" r="1.5"/><circle cx="551" cy="149.7" r="1.5"/><circle cx="551.8" cy="148.09" r="1.5"/><circle cx="552.6" cy="147.01" r="1.5"/><circle cx="553.4" cy="148.65" r="1.5"/><circle cx="554.2" cy="149.93" r="1.5"/><circle cx="555" cy="149.16" r="1.5"/><circle cx="555.8" cy="152.12" r="1.5"/><circle cx="556.6" cy="148.29" r="1.5"/><circle cx="557.4" cy="149.38" r="1.5"/><circle cx="558.2" cy="153.38" r="1.5"/><circle cx="559" cy="151.44" r="1.5"/><circle cx="559.8" cy="149.76" r="1.5"/><circle cx="560.6" cy="154.87" r="1.5"/><circle cx="561.4" cy="156.92" r="1.5"/><circle cx="562.2" cy="153.13" r="1.5"/><circle cx="563" cy="151.69" r="1.5"/><circle cx="563.8" cy="155.48" r="1.5"/><circle cx="564.6" cy="156.39" r="1.5"/><circle cx="565.4" cy="157.03" r="1.5"/><circle cx="566.2" cy="162.12" r="1.5"/><circle cx="567" cy="157.29" r="1.5"/><circle cx="567.8" cy="163.78" r="1.5"/><circle cx="568.6" cy="158.48" r="1.5"/><circle cx="569.4" cy="160.34" r="1.5"/><circle cx="570.2" cy="164.44" r="1.5"/><circle cx="571" cy="166.33" r="1.5"/><circle cx="571.8" cy="166.39" r="1.5"/><circle cx="572.6" cy="165.78" r="1.5"/><circle cx="573.4" cy="165.89" r="1.5"/><circle cx="574.2" cy="166.52" r="1.5"/><circle cx="575" cy="168.13" r="1.5"/><circle cx="575.8" cy="166.93" r="1.5"/><circle cx="576.6" cy="168.32" r="1.5"/><circle cx="577.4" cy="169.22" r="1.5"/><circle cx="578.2" cy="168.05" r="1.5"/><circle cx="579" cy="170.08" r="1.5"/><circle cx="579.8" cy="169.81" r="1.5"/><circle cx="580.6" cy="173.4" r="1.5"/><circle cx="581.4" cy="169.45" r="1.5"/><circle cx="582.2" cy="167.75" r="1.5"/><circle cx="583" cy="167.98" r="1.5"/><circle cx="583.8" cy="168.94" r="1.5"/><circle cx="584.6" cy="170.92" r="1.5"/><circle cx="585.4" cy="167.49" r="1.5"/><circle cx="586.2" cy="168.83" r="1.5"/><circle cx="587" cy="171.91" r="1.5"/><circle cx="587.8" cy="161.6" r="1.5"/><circle cx="588.6" cy="164.15" r="1.5"/><circle cx="589.4" cy="167.24" r="1.5"/><circle cx="590.2" cy="167.41" r="1.5"/><circle cx="591" cy="166.82" r="1.5"/><circle cx="591.8" cy="165.02" r="1.5"/><circle cx="592.6" cy="167.42" r="1.5"/><circle cx="593.4" cy="166.33" r="1.5"/><circle cx="594.2" cy="164.2" r="1.5"/><circle cx="595" cy="170.75" r="1.5"/><circle cx="595.8" cy="165.9" r="1.5"/><circle cx="596.6" cy="162.92" r="1.5"/><circle cx="597.4" cy="163.01" r="1.5"/><circle cx="598.2" cy="161.71" r="1.5"/><circle cx="599" cy="161.1" r="1.5"/><circle cx="599.8" cy="154.75" r="1.5"/><circle cx="600.6" cy="158.46" r="1.5"/><circle cx="601.4" cy="161.55" r="1.5"/><circle cx="602.2" cy="155.82" r="1.5"/><circle cx="603" cy="157.96" r="1.5"/><circle cx="603.8" cy="159.91" r="1.5"/><circle cx="604.6" cy="159.03" r="1.5"/><circle cx="605.4" cy="159.85" r="1.5"/><circle cx="606.2" cy="151.49" r="1.5"/><circle cx="607" cy="154.03" r="1.5"/><circle cx="607.8" cy="153.36" r="1.5"/><circle cx="608.6" cy="154.97" r="1.5"/><circle cx="609.4" cy="155.4" r="1.5"/><circle cx="610.2" cy="146.58" r="1.5"/><circle cx="611" cy="153.99" r="1.5"/><circle cx="611.8" cy="147.2" r="1.5"/><circle cx="612.6" cy="151.46" r="1.5"/><circle cx="613.4" cy="145.34" r="1.5"/><circle cx="614.2" cy="148.45" r="1.5"/><circle cx="615" cy="149.99" r="1.5"/><circle cx="615.8" cy="145.87" r="1.5"/><circle cx="616.6" cy="145.93" r="1.5"/><circle cx="617.4" cy="146.69" r="1.5"/><circle cx="618.2" cy="144.41" r="1.5"/><circle cx="619" cy="143.16" r="1.5"/><circle cx="619.8" cy="146.35" r="1.5"/><circle cx="620.6" cy="144.49" r="1.5"/><circle cx="621.4" cy="140.57" r="1.5"/><circle cx="622.2" cy="146.08" r="1.5"/><circle cx="623" cy="137.12" r="1.5"/><circle cx="623.8" cy="141.37" r="1.5"/><circle cx="624.6" cy="137.84" r="1.5"/><circle cx="625.4" cy="138.09" r="1.5"/><circle cx="626.2" cy="138.77" r="1.5"/><circle cx="627" cy="136.91" r="1.5"/><circle cx="627.8" cy="137.21" r="1.5"/><circle cx="628.6" cy="131.16" r="1.5"/><circle cx="629.4" cy="130.3" r="1.5"/><circle cx="630.2" cy="134.5" r="1.5"/><circle cx="631" cy="129.81" r="1.5"/><circle cx="631.8" cy="128.76" r="1.5"/><circle cx="632.6" cy="127.17" r="1.5"/><circle cx="633.4" cy="133.34" r="1.5"/><circle cx="634.2" cy="131.69" r="1.5"/><circle cx="635" cy="133.04" r="1.5"/><circle cx="635.8" cy="126.85" r="1.5"/><circle cx="636.6" cy="128.82" r="1.5"/><circle cx="637.4" cy="125.84" r="1.5"/><circle cx="638.2" cy="130.18" r="1.5"/><circle cx="639" cy="131.91" r="1.5"/><circle cx="639.8" cy="125.72" r="1.5"/><circle cx="640.6" cy="131.36" r="1.5"/><circle cx="641.4" cy="129.72" r="1.5"/><circle cx="642.2" cy="126.62" r="1.5"/><circle cx="643" cy="122.02" r="1.5"/><circle cx="643.8" cy="129.83" r="1.5"/><circle cx="644.6" cy="125.92" r="1.5"/><circle cx="645.4" cy="124.3" r="1.5"/><circle cx="646.2" cy="126.21" r="1.5"/><circle cx="647" cy="125.73" r="1.5"/><circle cx="647.8" cy="127.85" r="1.5"/><circle cx="648.6" cy="121.3" r="1.5"/><circle cx="649.4" cy="126.28" r="1.5"/><circle cx="650.2" cy="127.22" r="1.5"/><circle cx="651" cy="127.24" r="1.5"/><circle cx="651.8" cy="123.42" r="1.5"/><circle cx="652.6" cy="122.16" r="1.5"/><circle cx="653.4" cy="126.54" r="1.5"/><circle cx="654.2" cy="124.58" r="1.5"/><circle cx="655" cy="124.8" r="1.5"/><circle cx="655.8" cy="128.12" r="1.5"/><circle cx="656.6" cy="124.27" r="1.5"/><circle cx="657.4" cy="119.3" r="1.5"/><circle cx="658.2" cy="123.47" r="1.5"/><circle cx="659" cy="119.55" r="1.5"/><circle cx="659.8" cy="125.57" r="1.5"/><circle cx="660.6" cy="123.96" r="1.5"/><circle cx="661.4" cy="121.63" r="1.5"/><circle cx="662.2" cy="123.28" r="1.5"/><circle cx="663" cy="125.5" r="1.5"/><circle cx="663.8" cy="123.89" r="1.5"/><circle cx="664.6" cy="127.08" r="1.5"/><circle cx="665.4" cy="123.85" r="1.5"/><circle cx="666.2" cy="126.5" r="1.5"/><circle cx="667" cy="127.58" r="1.5"/><circle cx="667.8" cy="127.86" r="1.5"/><circle cx="668.6" cy="122.39" r="1.5"/><circle cx="669.4" cy="126.27" r="1.5"/><circle cx="670.2" cy="119.98" r="1.5"/><circle cx="671" cy="122.2" r="1.5"/><circle cx="671.8" cy="120.41" r="1.5"/><circle cx="672.6" cy="128.01" r="1.5"/><circle cx="673.4" cy="122.8" r="1.5"/></g>
<path d="M406.6,178.6 L408,180 L410,185 L412.3,180.4 L414.3,182.1 L416.6,185 L419,187.9 L421.1,184.7 L423.3,189.3 L425.4,186.1 L427.6,186.4 L429.7,185.7 L431.9,185 L434,184.7 L436.1,182.9 L438.6,181.1 L441.4,177.6 L443.3,172.4 L445.4,171 L448.3,168.1 L450.4,161.4 L452.4,166.2 L454.9,151.9 L457.3,157.5 L459.4,148 L461.8,144 L463.7,140.1 L466.1,143.4 L468.6,136.2 L470.6,128.7 L472.9,128.1 L475.1,123.2 L477.1,124.8 L479.4,123.2 L481.8,127.2 L484.3,116.6 L486.3,122.5 L488.6,126.2 L490.8,122.5 L493.1,131.1 L495.5,120.3 L497.5,127.3 L499.9,128.8 L502.3,130.2 L504.2,137.3 L506.4,138.6 L508.7,138 L510.7,135.1 L513.2,144.1 L515.6,150.8 L517.9,150.8 L520.1,156.3 L522.5,157.8 L524.4,159.2 L526.8,161.6 L528.9,168.6 L531.2,171.2 L533.4,171.9 L535.8,171.2 L538.1,180.4 L540.1,178.3 L542.2,181.7 L544.3,186.4 L546.5,185.3 L548.8,193.5 L551,193.5 L553.1,192.8 L555.7,200.8 L558.3,202.5 L560.4,204.2 L562.5,201.8 L564.7,211 L566.8,215.3 L569,217.5 L570.8,220.5 L572.6,223 L575.4,224.25 L578.1,223.8 L580.7,226.4 L582.8,233.2 L585,226.8 L587.1,229 L589.7,224.7 L591.8,226.4 L594,207.1 L596.1,232.8 L598.5,217.8 L600.6,218.9 L602.8,221 L604.9,212.5 L607.5,207.5 L609.6,213.5 L611.75,206.5 L613.9,204 L615.9,198.9 L618.25,197.9 L620.9,188 L623.25,193.9 L625.4,186.8 L627.7,188.6 L629.9,181.1 L632.5,177 L634.7,176.4 L637,173.9 L639.1,177.9 L641.5,174.3 L643.8,171.1 L645.6,162.7 L647.7,164.5 L650,163.9 L652.2,164.8 L654.9,165 L656.6,165.4 L658.8,167.5 L661.1,164.5 L663.8,163.6 L665.9,164.5 L668.25,168.9 L670.6,166.8 L673.1,162.1" fill="none" stroke="#6060ff" stroke-width="0.6" opacity="1"/>
<g fill="#0000ff"><circle cx="406.6" cy="178.6" r="1.7"/><circle cx="408" cy="180" r="1.7"/><circle cx="410" cy="185" r="1.7"/><circle cx="412.3" cy="180.4" r="1.7"/><circle cx="414.3" cy="182.1" r="1.7"/><circle cx="416.6" cy="185" r="1.7"/><circle cx="419" cy="187.9" r="1.7"/><circle cx="421.1" cy="184.7" r="1.7"/><circle cx="423.3" cy="189.3" r="1.7"/><circle cx="425.4" cy="186.1" r="1.7"/><circle cx="427.6" cy="186.4" r="1.7"/><circle cx="429.7" cy="185.7" r="1.7"/><circle cx="431.9" cy="185" r="1.7"/><circle cx="434" cy="184.7" r="1.7"/><circle cx="436.1" cy="182.9" r="1.7"/><circle cx="438.6" cy="181.1" r="1.7"/><circle cx="441.4" cy="177.6" r="1.7"/><circle cx="443.3" cy="172.4" r="1.7"/><circle cx="445.4" cy="171" r="1.7"/><circle cx="448.3" cy="168.1" r="1.7"/><circle cx="450.4" cy="161.4" r="1.7"/><circle cx="452.4" cy="166.2" r="1.7"/><circle cx="454.9" cy="151.9" r="1.7"/><circle cx="457.3" cy="157.5" r="1.7"/><circle cx="459.4" cy="148" r="1.7"/><circle cx="461.8" cy="144" r="1.7"/><circle cx="463.7" cy="140.1" r="1.7"/><circle cx="466.1" cy="143.4" r="1.7"/><circle cx="468.6" cy="136.2" r="1.7"/><circle cx="470.6" cy="128.7" r="1.7"/><circle cx="472.9" cy="128.1" r="1.7"/><circle cx="475.1" cy="123.2" r="1.7"/><circle cx="477.1" cy="124.8" r="1.7"/><circle cx="479.4" cy="123.2" r="1.7"/><circle cx="481.8" cy="127.2" r="1.7"/><circle cx="484.3" cy="116.6" r="1.7"/><circle cx="486.3" cy="122.5" r="1.7"/><circle cx="488.6" cy="126.2" r="1.7"/><circle cx="490.8" cy="122.5" r="1.7"/><circle cx="493.1" cy="131.1" r="1.7"/><circle cx="495.5" cy="120.3" r="1.7"/><circle cx="497.5" cy="127.3" r="1.7"/><circle cx="499.9" cy="128.8" r="1.7"/><circle cx="502.3" cy="130.2" r="1.7"/><circle cx="504.2" cy="137.3" r="1.7"/><circle cx="506.4" cy="138.6" r="1.7"/><circle cx="508.7" cy="138" r="1.7"/><circle cx="510.7" cy="135.1" r="1.7"/><circle cx="513.2" cy="144.1" r="1.7"/><circle cx="515.6" cy="150.8" r="1.7"/><circle cx="517.9" cy="150.8" r="1.7"/><circle cx="520.1" cy="156.3" r="1.7"/><circle cx="522.5" cy="157.8" r="1.7"/><circle cx="524.4" cy="159.2" r="1.7"/><circle cx="526.8" cy="161.6" r="1.7"/><circle cx="528.9" cy="168.6" r="1.7"/><circle cx="531.2" cy="171.2" r="1.7"/><circle cx="533.4" cy="171.9" r="1.7"/><circle cx="535.8" cy="171.2" r="1.7"/><circle cx="538.1" cy="180.4" r="1.7"/><circle cx="540.1" cy="178.3" r="1.7"/><circle cx="542.2" cy="181.7" r="1.7"/><circle cx="544.3" cy="186.4" r="1.7"/><circle cx="546.5" cy="185.3" r="1.7"/><circle cx="548.8" cy="193.5" r="1.7"/><circle cx="551" cy="193.5" r="1.7"/><circle cx="553.1" cy="192.8" r="1.7"/><circle cx="555.7" cy="200.8" r="1.7"/><circle cx="558.3" cy="202.5" r="1.7"/><circle cx="560.4" cy="204.2" r="1.7"/><circle cx="562.5" cy="201.8" r="1.7"/><circle cx="564.7" cy="211" r="1.7"/><circle cx="566.8" cy="215.3" r="1.7"/><circle cx="569" cy="217.5" r="1.7"/><circle cx="570.8" cy="220.5" r="1.7"/><circle cx="572.6" cy="223" r="1.7"/><circle cx="575.4" cy="224.25" r="1.7"/><circle cx="578.1" cy="223.8" r="1.7"/><circle cx="580.7" cy="226.4" r="1.7"/><circle cx="582.8" cy="233.2" r="1.7"/><circle cx="585" cy="226.8" r="1.7"/><circle cx="587.1" cy="229" r="1.7"/><circle cx="589.7" cy="224.7" r="1.7"/><circle cx="591.8" cy="226.4" r="1.7"/><circle cx="594" cy="207.1" r="1.7"/><circle cx="596.1" cy="232.8" r="1.7"/><circle cx="598.5" cy="217.8" r="1.7"/><circle cx="600.6" cy="218.9" r="1.7"/><circle cx="602.8" cy="221" r="1.7"/><circle cx="604.9" cy="212.5" r="1.7"/><circle cx="607.5" cy="207.5" r="1.7"/><circle cx="609.6" cy="213.5" r="1.7"/><circle cx="611.75" cy="206.5" r="1.7"/><circle cx="613.9" cy="204" r="1.7"/><circle cx="615.9" cy="198.9" r="1.7"/><circle cx="618.25" cy="197.9" r="1.7"/><circle cx="620.9" cy="188" r="1.7"/><circle cx="623.25" cy="193.9" r="1.7"/><circle cx="625.4" cy="186.8" r="1.7"/><circle cx="627.7" cy="188.6" r="1.7"/><circle cx="629.9" cy="181.1" r="1.7"/><circle cx="632.5" cy="177" r="1.7"/><circle cx="634.7" cy="176.4" r="1.7"/><circle cx="637" cy="173.9" r="1.7"/><circle cx="639.1" cy="177.9" r="1.7"/><circle cx="641.5" cy="174.3" r="1.7"/><circle cx="643.8" cy="171.1" r="1.7"/><circle cx="645.6" cy="162.7" r="1.7"/><circle cx="647.7" cy="164.5" r="1.7"/><circle cx="650" cy="163.9" r="1.7"/><circle cx="652.2" cy="164.8" r="1.7"/><circle cx="654.9" cy="165" r="1.7"/><circle cx="656.6" cy="165.4" r="1.7"/><circle cx="658.8" cy="167.5" r="1.7"/><circle cx="661.1" cy="164.5" r="1.7"/><circle cx="663.8" cy="163.6" r="1.7"/><circle cx="665.9" cy="164.5" r="1.7"/><circle cx="668.25" cy="168.9" r="1.7"/><circle cx="670.6" cy="166.8" r="1.7"/><circle cx="673.1" cy="162.1" r="1.7"/></g>
<path d="M441.9,185.7 V22.8 H636.2 V185.7" fill="none" stroke="#ff20ff" stroke-width="1.7"/>
<line x1="618.7" y1="22.8" x2="624.9" y2="22.8" stroke="#ffc8ff" stroke-width="1.8"/>
<path d="M517.3,51.8 V41.6 H562.7 V65.2" fill="none" stroke="#ff0000" stroke-width="1.4"/>
<path d="M515.0999999999999,49.8 L517.3,56.8 L519.5,49.8 L517.3,51.3 Z M560.5,63.2 L562.7,70.2 L564.9000000000001,63.2 L562.7,64.7 Z" fill="#ff0000"/>
<path d="M524.5,114.3 V106.4 H556.1 V123.6" fill="none" stroke="#111" stroke-width="1.4"/>
<path d="M522.3,112.3 L524.5,119.3 L526.7,112.3 L524.5,113.8 Z M553.9,121.6 L556.1,128.6 L558.3000000000001,121.6 L556.1,123.1 Z" fill="#111"/>
<path d="M531.0,161.4 V153.6 H549.3 V170.0" fill="none" stroke="#0000ff" stroke-width="1.4"/>
<path d="M528.8,159.4 L531.0,166.4 L533.2,159.4 L531.0,160.9 Z M547.0999999999999,168.0 L549.3,175.0 L551.5,168.0 L549.3,169.5 Z" fill="#0000ff"/>
<rect x="539.5" y="24" width="95.5" height="12.8" fill="#fff"/>
<text class="s" x="540.7" y="35.1" font-size="11.8" fill="#ff20ff">effective <tspan font-style="italic">l</tspan> &lt; 0.5 μm</text>
<rect x="639.5" y="89.0" width="34.5" height="11.5" fill="#fff"/>
<text class="s" x="640.6" y="98.0" font-size="9.6" fill="#ff3030"><tspan font-style="italic">l</tspan> = 2 μm</text>
<rect x="639.5" y="135.5" width="34.5" height="11.5" fill="#fff"/>
<text class="s" x="640.6" y="144.5" font-size="9.6" fill="#000"><tspan font-style="italic">l</tspan> = 3 μm</text>
<rect x="639.5" y="181.4" width="34.5" height="11.5" fill="#fff"/>
<text class="s" x="640.6" y="190.4" font-size="9.6" fill="#1a1aff"><tspan font-style="italic">l</tspan> = 5 μm</text>
<path d="M405.5,244.85V14.5H674.5" fill="none" stroke="#5a5a5a" stroke-width="1.05"/>
<path d="M405.5,244.85H674.5" fill="none" stroke="#4a4a4a" stroke-width="1.2"/>
<path d="M674.5,14.5V244.85" fill="none" stroke="#606060" stroke-width="1.25"/>
<path d="M405.5,14.5v2M405.5,244.5v-2M414.47,14.5v2M414.47,244.5v-2M423.43,14.5v2M423.43,244.5v-2M432.4,14.5v2M432.4,244.5v-2M441.37,14.5v2M441.37,244.5v-2M450.33,14.5v2M450.33,244.5v-2M459.3,14.5v2M459.3,244.5v-2M468.27,14.5v2M468.27,244.5v-2M477.23,14.5v2M477.23,244.5v-2M486.2,14.5v2M486.2,244.5v-2M495.17,14.5v2M495.17,244.5v-2M504.13,14.5v2M504.13,244.5v-2M513.1,14.5v2M513.1,244.5v-2M522.07,14.5v2M522.07,244.5v-2M531.03,14.5v2M531.03,244.5v-2M540,14.5v2M540,244.5v-2M548.97,14.5v2M548.97,244.5v-2M557.93,14.5v2M557.93,244.5v-2M566.9,14.5v2M566.9,244.5v-2M575.87,14.5v2M575.87,244.5v-2M584.83,14.5v2M584.83,244.5v-2M593.8,14.5v2M593.8,244.5v-2M602.77,14.5v2M602.77,244.5v-2M611.73,14.5v2M611.73,244.5v-2M620.7,14.5v2M620.7,244.5v-2M629.67,14.5v2M629.67,244.5v-2M638.63,14.5v2M638.63,244.5v-2M647.6,14.5v2M647.6,244.5v-2M656.57,14.5v2M656.57,244.5v-2M665.53,14.5v2M665.53,244.5v-2M674.5,14.5v2M674.5,244.5v-2M405.5,245.18h2M674.5,245.18h-2M405.5,222.1h2M674.5,222.1h-2M405.5,199.03h2M674.5,199.03h-2M405.5,175.95h2M674.5,175.95h-2M405.5,152.88h2M674.5,152.88h-2M405.5,129.8h2M674.5,129.8h-2M405.5,106.73h2M674.5,106.73h-2M405.5,83.65h2M674.5,83.65h-2M405.5,60.58h2M674.5,60.58h-2M405.5,37.5h2M674.5,37.5h-2M405.5,14.43h2M674.5,14.43h-2" stroke="#777" stroke-width="1" fill="none"/>
<text class="s" x="405.5" y="258.7" font-size="14" text-anchor="middle" fill="#222">-300</text>
<text class="s" x="450.33" y="258.7" font-size="14" text-anchor="middle" fill="#222">-200</text>
<text class="s" x="495.17" y="258.7" font-size="14" text-anchor="middle" fill="#222">-100</text>
<text class="s" x="540" y="258.7" font-size="14" text-anchor="middle" fill="#222">0</text>
<text class="s" x="584.83" y="258.7" font-size="14" text-anchor="middle" fill="#222">100</text>
<text class="s" x="629.67" y="258.7" font-size="14" text-anchor="middle" fill="#222">200</text>
<text class="s" x="674.5" y="258.7" font-size="14" text-anchor="middle" fill="#222">300</text>
<text class="s" x="402.6" y="41.9" font-size="14" text-anchor="end" fill="#222">0.4</text>
<text class="s" x="402.6" y="134.2" font-size="14" text-anchor="end" fill="#222">0.0</text>
<text class="s" x="402.6" y="226.5" font-size="14" text-anchor="end" fill="#222">-0.4</text>
<g class="s" fill="#111"><text x="513.1" y="273.6" font-size="18.5">B</text><text x="525.3000000000001" y="278.9" font-size="11.5">⊥</text><text x="539.9" y="274.2" font-size="18.5">(mT</text><text x="573.1" y="274.4" font-size="19">)</text></g>
<text class="s" transform="translate(376.3,162.8) rotate(-90)" x="0" y="0" font-size="18.5" textLength="59" lengthAdjust="spacingAndGlyphs" fill="#111">ΔI (μA)</text>
<rect x="427.5" y="202.5" width="11.5" height="8.7" fill="#fff"/><rect x="405.8" y="212.3" width="33.2" height="9" fill="#fff"/><rect x="417.5" y="222.8" width="21.5" height="8" fill="#fff"/>
<g class="s" font-weight="bold" font-size="9.6" fill="#000" text-anchor="end">
<text x="438" y="209.6">Al</text><text x="438" y="219.7">InGaAs</text><text x="438" y="229.4">InAs</text>
</g>
<polygon points="440,221.1 468.3,234.0 468.3,245.0 440,234.3" fill="#5fa9a2"/>
<polygon points="468.3,234.0 541.3,206.6 541.3,215.4 468.3,245.0" fill="#78bdb5"/>
<polygon points="440,208.1 468.3,221.5 468.3,234.0 440,221.1" fill="#5aa93f"/>
<polygon points="468.3,221.5 541.3,193.8 541.3,206.6 468.3,234.0" fill="#6dbd55"/>
<polygon points="440,200.6 468.3,213.8 468.3,221.5 440,208.1" fill="#b8b8b8"/>
<polygon points="468.3,213.8 541.3,186.3 541.3,193.8 468.3,221.5" fill="#cdcdcd"/>
<polygon points="440,200.6 455.5,195.5 465,199.3 500.9,187.1 501.4,179.6 511,177.2 541.3,186.3 468.3,213.8" fill="#d5d5d5"/>
<polygon points="465,199.3 500.9,187.1 521.4,190 478.6,207.1" fill="#82cf68"/>
<polygon points="501.4,179.6 519.5,188.3 521.4,190 500.9,187.1" fill="#c6c6c6"/>
<line x1="482.5" y1="205.5" x2="518.5" y2="192.4" stroke="#000" stroke-width="1"/>
<path d="M479.5,206.6 L482.98,202.99 L482.32,205.57 L484.48,207.13 Z"/>
<path d="M521.5,191.3 L518.02,194.91 L518.68,192.33 L516.52,190.77 Z"/>
<path d="M495.6,189.2 C495.2,192 494.2,195 493.3,197.2 C493,198.4 493.8,198.9 494.9,198.3" fill="none" stroke="#000" stroke-width="1.25" stroke-linecap="round"/>
<polygon points="484.3,216.4 484.6,227.5 524.8,212.8 524.8,201.2" fill="none" stroke="#000" stroke-width="0.9" stroke-dasharray="2,1.3"/>
<line x1="518.8" y1="216.6" x2="507.5" y2="216.4" stroke="#ff0000" stroke-width="1.8"/>
<path d="M504.3,216.3 L508.5,213.9 L508.3,218.8 Z" fill="#ff0000"/>
<text class="s" x="521.9" y="219.4" font-size="15.5" font-style="italic" fill="#ff1010" stroke="#ff1010" stroke-width="0.35">ϕ<tspan font-style="normal" font-size="10" stroke-width="0.2" dx="0.9" dy="2.4">0</tspan></text>
</svg></body></html>
